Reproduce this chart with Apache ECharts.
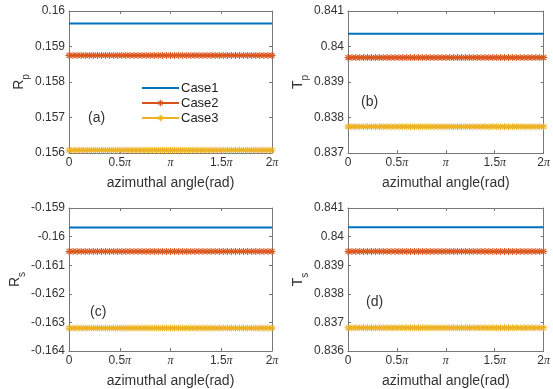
<!DOCTYPE html>
<html>
<head>
<meta charset="utf-8">
<script src="https://cdn.jsdelivr.net/npm/echarts@6/dist/echarts.min.js"></script>
<style>
  html, body { margin: 0; padding: 0; background: #fff; }
  #chart { width: 553px; height: 389px; }
</style>
</head>
<body>
<div id="chart"></div>
<script>
// Azimuthal angle samples, in units of pi (0 .. 2pi, 51 samples)
const angleSamples = 51;
const anglesPi = Array.from({ length: angleSamples }, (_, i) => i * 2 / (angleSamples - 1));

const caseNames = ['Case1', 'Case2', 'Case3'];
const caseColors = ['#0072BD', '#D95319', '#EDB120'];

// Reflection / transmission coefficients per case (constant over azimuth)
const rpValues = [0.15965, 0.15875, 0.15608];
const tpValues = [0.84036, 0.83969, 0.83774];
const rsValues = [-0.15968, -0.16052, -0.16320];
const tsValues = [0.84033, 0.83948, 0.83681];

// Axis ranges and tick labels
const xTickLabels = ['0', '0.5π', 'π', '1.5π', '2π'];
const rpTicks = [0.156, 0.157, 0.158, 0.159, 0.16];
const tpTicks = [0.837, 0.838, 0.839, 0.84, 0.841];
const rsTicks = [-0.164, -0.163, -0.162, -0.161, -0.16, -0.159];
const tsTicks = [0.836, 0.837, 0.838, 0.839, 0.84, 0.841];

const panelLetters = ['(a)', '(b)', '(c)', '(d)'];

// MATLAB-style asterisk marker
const asterisk = 'path://M-0.75,-5 L0.75,-5 L0.75,5 L-0.75,5 Z M-5,-0.75 L5,-0.75 L5,0.75 L-5,0.75 Z ' +
  'M-4.1,-3.0 L3.0,4.1 L4.1,3.0 L-3.0,-4.1 Z M4.1,-3.0 L-3.0,4.1 L-4.1,3.0 L3.0,-4.1 Z';
// plain line legend icon for the marker-less case
const plainLineIcon = 'path://M0,0 L37,0 L37,2 L0,2 Z';

const textColor = '#333';
const lineColor = '#777';
const fontFamily = '"Liberation Sans", Arial, Helvetica, sans-serif';

const panels = [
  { values: rpValues, ticks: rpTicks, label: 'R', sub: 'p', grid: { left: 69, top: 11, width: 203, height: 142 }, tag: { x: 88, y: 119 } },
  { values: tpValues, ticks: tpTicks, label: 'T', sub: 'p', grid: { left: 348, top: 11, width: 199, height: 142 }, tag: { x: 361, y: 103 } },
  { values: rsValues, ticks: rsTicks, label: 'R', sub: 's', grid: { left: 69, top: 208, width: 203, height: 144 }, tag: { x: 90, y: 313 } },
  { values: tsValues, ticks: tsTicks, label: 'T', sub: 's', grid: { left: 348, top: 208, width: 199, height: 144 }, tag: { x: 366, y: 303 } }
];

const grids = [], xAxes = [], yAxes = [], series = [], graphics = [];

function xLabel(v) {
  const idx = Math.round(v * 2);
  const s = xTickLabels[idx];
  if (s === undefined) return '';
  if (s.indexOf('π') < 0) return s;
  const num = s.replace('π', '');
  return (num ? '{n|' + num + '}' : '') + '{p|π}';
}

function yLabel(v) {
  return String(+v.toFixed(4));
}

const tickRich = {
  n: { fontFamily: fontFamily, fontSize: 12, color: textColor },
  p: { fontFamily: '"Liberation Serif", "DejaVu Serif", serif', fontStyle: 'italic', fontSize: 12, color: textColor }
};

panels.forEach((pn, gi) => {
  grids.push(Object.assign({ containLabel: false }, pn.grid));
  const tmin = pn.ticks[0], tmax = pn.ticks[pn.ticks.length - 1];
  const step = +(pn.ticks[1] - pn.ticks[0]).toFixed(6);

  // bottom x axis with labels and name
  xAxes.push({
    type: 'value', gridIndex: gi, position: 'bottom', min: 0, max: 2, interval: 0.5,
    name: 'azimuthal angle(rad)', nameLocation: 'middle', nameGap: 23,
    nameTextStyle: { fontFamily: fontFamily, fontSize: 14, color: textColor },
    axisLine: { show: true, onZero: false, lineStyle: { color: lineColor, width: 1 } },
    axisTick: { show: true, inside: true, length: 3, lineStyle: { color: lineColor } },
    axisLabel: { margin: 4, formatter: xLabel, rich: tickRich, fontFamily: fontFamily, fontSize: 12, color: textColor },
    splitLine: { show: false }
  });
  // top mirror x axis
  xAxes.push({
    type: 'value', gridIndex: gi, position: 'top', min: 0, max: 2, interval: 0.5,
    axisLine: { show: true, onZero: false, lineStyle: { color: lineColor, width: 1 } },
    axisTick: { show: true, inside: true, length: 3, lineStyle: { color: lineColor } },
    axisLabel: { show: false }, splitLine: { show: false }
  });
  // left y axis with labels and name
  yAxes.push({
    type: 'value', gridIndex: gi, position: 'left', min: tmin, max: tmax, interval: step,
    name: '{m|' + pn.label + '}{s|' + pn.sub + '}', nameLocation: 'middle', nameGap: 42, nameRotate: 90,
    nameTextStyle: {
      color: textColor,
      rich: {
        m: { fontFamily: fontFamily, fontSize: 14, color: textColor, lineHeight: 16, verticalAlign: 'bottom' },
        s: { fontFamily: fontFamily, fontSize: 10, color: textColor, lineHeight: 16, verticalAlign: 'bottom', padding: [0, 0, -5, 0] }
      }
    },
    axisLine: { show: true, onZero: false, lineStyle: { color: lineColor, width: 1 } },
    axisTick: { show: true, inside: true, length: 3, lineStyle: { color: lineColor } },
    axisLabel: { margin: 4, formatter: yLabel, fontFamily: fontFamily, fontSize: 12, color: textColor },
    splitLine: { show: false }
  });
  // right mirror y axis
  yAxes.push({
    type: 'value', gridIndex: gi, position: 'right', min: tmin, max: tmax, interval: step,
    axisLine: { show: true, onZero: false, lineStyle: { color: lineColor, width: 1 } },
    axisTick: { show: true, inside: true, length: 3, lineStyle: { color: lineColor } },
    axisLabel: { show: false }, splitLine: { show: false }
  });

  pn.values.forEach((val, ci) => {
    series.push({
      name: caseNames[ci], type: 'line', xAxisIndex: gi * 2, yAxisIndex: gi * 2,
      data: anglesPi.map(a => [a, val]),
      showSymbol: ci > 0, symbol: ci > 0 ? asterisk : 'none', symbolSize: 7,
      lineStyle: { color: caseColors[ci], width: 2 },
      itemStyle: { color: caseColors[ci] },
      z: 3 - ci
    });
  });

  graphics.push({
    type: 'text', left: pn.tag.x, top: pn.tag.y - 8,
    style: { text: panelLetters[gi], font: '14px ' + fontFamily, fill: textColor }
  });
});

const chart = echarts.init(document.getElementById('chart'), null, { renderer: 'canvas' });
chart.setOption({
  animation: false,
  backgroundColor: '#fff',
  grid: grids,
  xAxis: xAxes,
  yAxis: yAxes,
  series: series,
  legend: {
    data: [{ name: caseNames[0], icon: plainLineIcon }, caseNames[1], caseNames[2]],
    orient: 'vertical', left: 141, top: 81,
    itemWidth: 37, itemHeight: 8, itemGap: 1,
    textStyle: { fontFamily: fontFamily, fontSize: 13, lineHeight: 14, color: '#222', padding: [0, 0, 0, -3] },
    backgroundColor: '#fff', padding: 0
  },
  graphic: graphics
});
</script>
</body>
</html>
